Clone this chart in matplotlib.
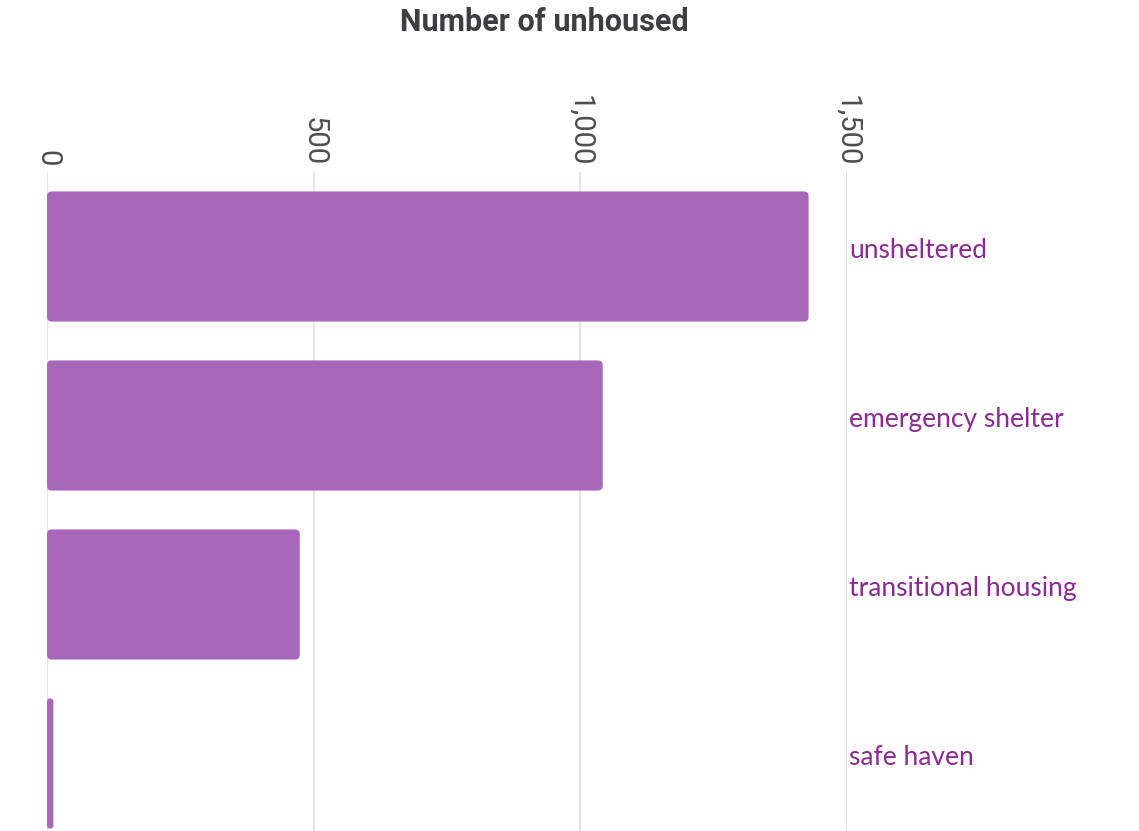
import matplotlib
matplotlib.use("Agg")
import matplotlib.pyplot as plt
import matplotlib.transforms as mtransforms
from matplotlib.patches import FancyBboxPatch
from matplotlib.ticker import FuncFormatter

categories = ["unsheltered", "emergency shelter", "transitional housing", "safe haven"]
values = [1428, 1042, 474, 12]
x_ticks = [0, 500, 1000, 1500]
title = "Number of unhoused"

bar_color = "#a967ba"
label_color = "#8b2a92"

fig = plt.figure(figsize=(11.39, 8.31), dpi=100)
ax = fig.add_axes([47/1139, 1 - 848/831, 800/1139, (848 - 172)/831])

ypos = list(range(len(categories)))
bars = ax.barh(ypos, values, height=0.77, color=bar_color)
ax.set_ylim(len(categories) - 0.5, -0.5)
ax.set_xlim(0, 1500)

# Replace bars with rounded versions using bar geometry
xpx = 800 / 1500.0
ypx = 676 / 4.0
aspect = xpx / ypx
for b in bars:
    x0, y0, w, h = b.get_x(), b.get_y(), b.get_width(), b.get_height()
    rs = min(9.0, w / 2)
    p = FancyBboxPatch((x0, y0), w, h,
                       boxstyle=f"round,pad=0,rounding_size={rs}",
                       mutation_aspect=aspect,
                       facecolor=bar_color, edgecolor="none", zorder=3)
    ax.add_patch(p)
    b.set_visible(False)

ax.set_xticks(x_ticks)
ax.xaxis.set_major_formatter(FuncFormatter(lambda v, p: f"{int(v):,}"))
ax.xaxis.tick_top()
ax.tick_params(axis="x", length=0, pad=4, labelsize=21, labelcolor="#4d4d4d",
               labelrotation=-90)
for lbl in ax.get_xticklabels():
    lbl.set_fontfamily("Roboto")

ax.set_yticks([])
trans = mtransforms.blended_transform_factory(ax.transAxes, ax.transData)
for yi, cat in zip(ypos, categories):
    ax.text(1.003, yi - 0.035, cat, transform=trans, ha="left", va="center",
            fontsize=19, family="Lato", color=label_color)

ax.grid(axis="x", color="#e2e2e2", linewidth=1.3, zorder=0)
ax.set_axisbelow(True)
for s in ax.spines.values():
    s.set_visible(False)

fig.text(544/1139, 1 - 22/831, title, ha="center", va="center",
         fontsize=22, fontweight="bold", family="Roboto", color="#3d3d42")

fig.savefig("out.png", dpi=100)
